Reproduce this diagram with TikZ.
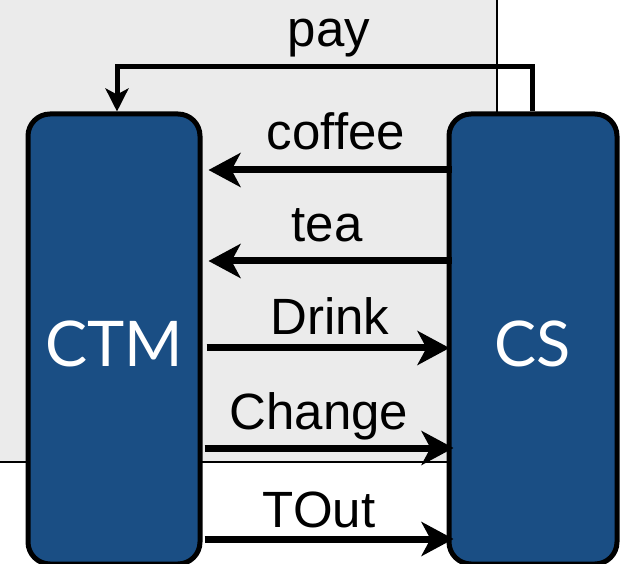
\documentclass[tikz,border=0pt]{standalone}
\usepackage{fontspec}
\setmainfont{Liberation Sans}
\newfontfamily\boxfont{Lato}
\usetikzlibrary{arrows.meta}
\definecolor{boxblue}{HTML}{1A4E84}
\definecolor{bggray}{HTML}{EBEBEB}
\tikzset{
  compbox/.style={draw=black, line width=5pt, fill=boxblue, rounded corners=22pt,
    text=white, font=\boxfont\fontsize{63}{63}\selectfont, text depth=0pt, text height=55pt, inner sep=0pt},
  msg/.style={line width=7pt, -{Stealth[length=32pt, width=34pt, inset=9pt]}},
  paymsg/.style={line width=5pt, -{Stealth[length=23pt, width=23pt, inset=6pt]}},
  lbl/.style={anchor=base, font=\fontsize{51}{60}\selectfont, inner sep=0pt},
}
\begin{document}
\begin{tikzpicture}[x=1pt, y=-1pt]
\useasboundingbox (0,0) rectangle (622,564);
% background panel
\fill[bggray] (0,0) rectangle (497,462);
\draw[line width=2pt] (497,0) -- (497,462) -- (0,462);
% components
\node[compbox, minimum width=172pt, minimum height=450pt] (ctm) at (114,339) {CTM};
\node[compbox, minimum width=168pt, minimum height=450pt] (cs) at (533,339) {CS};
% pay
\coordinate (payy) at (0,67);
\draw[paymsg] ([xshift=-1pt]cs.north) -- ([xshift=-1pt]cs.north |- payy) -| ([xshift=3pt]ctm.north);
\node[lbl] (lpay) at (329,47) {pay};
% messages CS -> CTM
\draw[msg, shorten >=6pt] ([yshift=169pt, xshift=5pt]cs.west) -- ([yshift=169pt]ctm.east);
\node[lbl] (lcoffee) at (336,150) {coffee};
\draw[msg, shorten >=6pt] ([yshift=78pt, xshift=5pt]cs.west) -- ([yshift=78pt]ctm.east);
\node[lbl] (ltea) at (327,242) {tea};
% messages CTM -> CS
\draw[msg, shorten >=-3pt] ([yshift=-9pt, xshift=4pt]ctm.east) -- ([yshift=-9pt]cs.west);
\node[lbl] (ldrink) at (330,335) {Drink};
\draw[msg, shorten >=-7pt] ([yshift=-109pt, xshift=2pt]ctm.east) -- ([yshift=-109pt]cs.west);
\node[lbl] (lchange) at (319,429) {Change};
\draw[msg, shorten >=-7pt] ([yshift=-200pt, xshift=2pt]ctm.east) -- ([yshift=-200pt]cs.west);
\node[lbl] (ltout) at (319,527) {TOut};
\end{tikzpicture}
\end{document}
